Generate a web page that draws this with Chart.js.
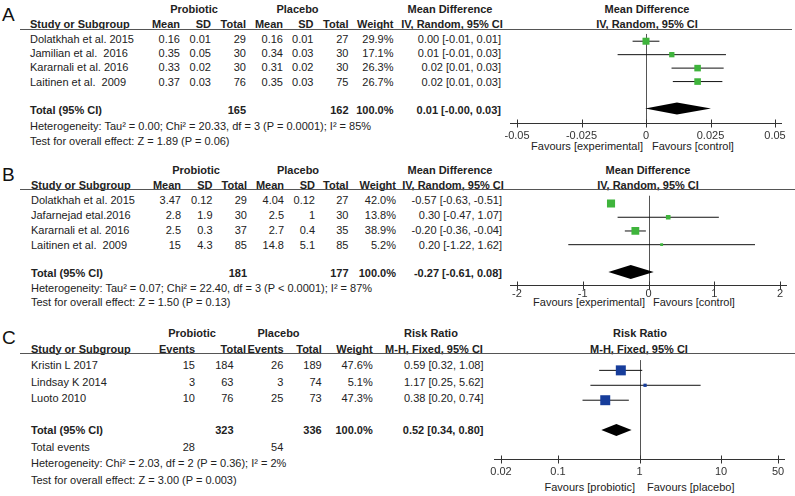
<!DOCTYPE html>
<html>
<head>
<meta charset="utf-8">
<script src="https://cdn.jsdelivr.net/npm/chart.js@4.4.1/dist/chart.umd.min.js"></script>
<style>
  html, body { margin: 0; padding: 0; background: #fff; }
  #fig { position: relative; width: 795px; height: 496px; overflow: hidden; font-family: Arial, "Liberation Sans", sans-serif; font-size: 11px; color: #222; }
  .t { position: absolute; white-space: pre; line-height: 13px; height: 13px; }
  .b { font-weight: bold; }
  .rule { position: absolute; height: 0; border-top: 1px solid #555; }
  .letter { position: absolute; font-size: 19px; line-height: 22px; color: #111; }
  canvas { position: absolute; }
</style>
</head>
<body>
<div id="fig"></div>
<script>
// Panel A - Mean Difference, IV, Random
const studiesA = ["Dolatkhah et al. 2015", "Jamilian et al.  2016", "Kararnali et al. 2016", "Laitinen et al.  2009"];
const meanProA = [0.16, 0.35, 0.33, 0.37];
const sdProA = [0.01, 0.05, 0.02, 0.03];
const nProA = [29, 30, 30, 76];
const meanPlaA = [0.16, 0.34, 0.31, 0.35];
const sdPlaA = [0.01, 0.03, 0.02, 0.03];
const nPlaA = [27, 30, 30, 75];
const weightA = [29.9, 17.1, 26.3, 26.7];
const mdA = [0.0, 0.01, 0.02, 0.02];
const loA = [-0.0052, -0.011, 0.0099, 0.0104];
const hiA = [0.0052, 0.031, 0.0301, 0.0296];
const totalNA = [165, 162];
const totalEffA = [0.012, -0.0003, 0.0252]; // est, lo, hi
const hetA = "Heterogeneity: Tau² = 0.00; Chi² = 20.33, df = 3 (P = 0.0001); I² = 85%";
const testA = "Test for overall effect: Z = 1.89 (P = 0.06)";
const ticksA = [-0.05, -0.025, 0, 0.025, 0.05];
const tickLabelsA = ["-0.05", "-0.025", "0", "0.025", "0.05"];

// Panel B - Mean Difference, IV, Random
const studiesB = ["Dolatkhah et al. 2015", "Jafarnejad etal.2016", "Kararnali et al. 2016", "Laitinen et al.  2009"];
const meanProB = [3.47, 2.8, 2.5, 15];
const sdProB = [0.12, 1.9, 0.3, 4.3];
const nProB = [29, 30, 37, 85];
const meanPlaB = [4.04, 2.5, 2.7, 14.8];
const sdPlaB = [0.12, 1, 0.4, 5.1];
const nPlaB = [27, 30, 35, 85];
const weightB = [42.0, 13.8, 38.9, 5.2];
const mdB = [-0.57, 0.30, -0.20, 0.20];
const loB = [-0.63, -0.47, -0.36, -1.22];
const hiB = [-0.51, 1.07, -0.04, 1.62];
const totalNB = [181, 177];
const totalEffB = [-0.27, -0.61, 0.08];
const hetB = "Heterogeneity: Tau² = 0.07; Chi² = 22.40, df = 3 (P < 0.0001); I² = 87%";
const testB = "Test for overall effect: Z = 1.50 (P = 0.13)";
const ticksB = [-2, -1, 0, 1, 2];
const tickLabelsB = ["-2", "-1", "0", "1", "2"];

// Panel C - Risk Ratio, M-H, Fixed
const studiesC = ["Kristin L 2017", "Lindsay K 2014", "Luoto 2010"];
const evProC = [15, 3, 10];
const nProC = [184, 63, 76];
const evPlaC = [26, 3, 25];
const nPlaC = [189, 74, 73];
const weightC = [47.6, 5.1, 47.3];
const rrC = [0.59, 1.17, 0.38];
const loC = [0.32, 0.25, 0.20];
const hiC = [1.08, 5.62, 0.74];
const totalNC = [323, 336];
const totalEvC = [28, 54];
const totalEffC = [0.52, 0.34, 0.80];
const hetC = "Heterogeneity: Chi² = 2.03, df = 2 (P = 0.36); I² = 2%";
const testC = "Test for overall effect: Z = 3.00 (P = 0.003)";
const ticksC = [0.02, 0.1, 1, 10, 50];
const tickLabelsC = ["0.02", "0.1", "1", "10", "50"];

const fig = document.getElementById("fig");

function put(str, x, y, align, bold) {
  const d = document.createElement("div");
  d.className = "t" + (bold ? " b" : "");
  d.textContent = str;
  d.style.top = (y - 6.4) + "px";
  if (align === "right") {
    d.style.left = (x - 400) + "px"; d.style.width = "400px"; d.style.textAlign = "right";
  } else if (align === "center") {
    d.style.left = (x - 200) + "px"; d.style.width = "400px"; d.style.textAlign = "center";
  } else {
    d.style.left = x + "px";
  }
  fig.appendChild(d);
}
function rule(x, y, w) {
  const d = document.createElement("div");
  d.className = "rule";
  d.style.left = x + "px"; d.style.top = y + "px"; d.style.width = w + "px";
  fig.appendChild(d);
}
function letter(s, y) {
  const d = document.createElement("div");
  d.className = "letter";
  d.textContent = s;
  d.style.left = "2px"; d.style.top = (y - 10.8) + "px";
  fig.appendChild(d);
}
const ci = (e, l, h) => e.toFixed(2) + " [" + l.toFixed(2) + ", " + h.toFixed(2) + "]";

Chart.defaults.font.family = "Arial, 'Liberation Sans', sans-serif";
Chart.defaults.font.size = 11;

function forestChart(o) {
  const canvas = document.createElement("canvas");
  canvas.width = o.w; canvas.height = o.h;
  canvas.style.left = o.left + "px"; canvas.style.top = o.top + "px";
  fig.appendChild(canvas);

  const decor = {
    id: "forestDecor",
    beforeDatasetsDraw(chart) {
      const { ctx, chartArea, scales } = chart;
      const x0 = Math.round(scales.x.getPixelForValue(o.ref)) + 0.5;
      ctx.save();
      ctx.strokeStyle = "#555"; ctx.lineWidth = 1;
      ctx.beginPath(); ctx.moveTo(x0, chartArea.top); ctx.lineTo(x0, chartArea.bottom); ctx.stroke();
      ctx.restore();
    },
    afterDatasetsDraw(chart) {
      const { ctx, chartArea, scales: { x, y } } = chart;
      const yb = Math.round(chartArea.bottom) + 0.5;
      ctx.save();
      ctx.strokeStyle = "#333"; ctx.lineWidth = 1;
      ctx.beginPath(); ctx.moveTo(chartArea.left - 7, yb); ctx.lineTo(chartArea.right + 7, yb); ctx.stroke();
      x.ticks.forEach(t => {
        const px = Math.round(x.getPixelForValue(t.value)) + 0.5;
        ctx.beginPath(); ctx.moveTo(px, yb - 4); ctx.lineTo(px, yb + 4); ctx.stroke();
      });
      // pooled estimate diamond
      const yc = y.getPixelForValue(o.totalRow);
      ctx.fillStyle = "#000";
      ctx.beginPath();
      ctx.moveTo(x.getPixelForValue(o.total[1]), yc);
      ctx.lineTo(x.getPixelForValue(o.total[0]), yc - o.dh);
      ctx.lineTo(x.getPixelForValue(o.total[2]), yc);
      ctx.lineTo(x.getPixelForValue(o.total[0]), yc + o.dh);
      ctx.closePath(); ctx.fill();
      ctx.restore();
    }
  };

  const ciSets = o.est.map((e, i) => ({
    showLine: true,
    data: [{ x: o.lo[i], y: i }, { x: o.hi[i], y: i }],
    borderColor: "#111", borderWidth: 1, pointRadius: 0, order: 1
  }));
  const boxSet = {
    data: o.est.map((e, i) => ({ x: e, y: i })),
    pointStyle: "rect",
    pointRadius: o.weight.map(w => o.boxK * Math.sqrt(w) / Math.SQRT2),
    backgroundColor: o.color, borderColor: o.color, borderWidth: 0, order: 0
  };

  return new Chart(canvas, {
    type: "scatter",
    data: { datasets: [boxSet, ...ciSets] },
    options: {
      responsive: false, animation: false, events: [],
      layout: { padding: { left: 20, right: 20, top: 0, bottom: 0 } },
      plugins: { legend: { display: false }, tooltip: { enabled: false } },
      scales: {
        x: {
          type: o.log ? "logarithmic" : "linear",
          min: o.ticks[0], max: o.ticks[o.ticks.length - 1],
          afterBuildTicks: s => { s.ticks = o.ticks.map(v => ({ value: v })); },
          afterFit: s => { s.height = 30; },
          grid: { display: false, drawTicks: true, tickLength: o.tickLen },
          border: { display: false },
          ticks: { autoSkip: false, maxRotation: 0, padding: 2, color: "#333", callback: (v, i) => o.tickLabels[i] }
        },
        y: { type: "linear", display: false, reverse: true, min: o.yMin, max: o.yMax }
      }
    },
    plugins: [decor]
  });
}

// ---------- Panel A ----------
letter("A", 15);
put("Probiotic", 194, 9.3, "center", true);
put("Placebo", 297.5, 9.3, "center", true);
put("Mean Difference", 450, 9.3, "center", true);
put("Mean Difference", 647, 9.3, "center", true);
const colA = [180, 211, 246, 283, 313.5, 348.5, 393.5];
put("Study or Subgroup", 30, 24, "left", true);
["Mean", "SD", "Total", "Mean", "SD", "Total", "Weight"].forEach((h, i) => put(h, colA[i], 24, "right", true));
put("IV, Random, 95% CI", 452, 24, "center", true);
put("IV, Random, 95% CI", 647, 24, "center", true);
rule(20, 29, 772);
const rowYA = [39, 53, 67.5, 82];
studiesA.forEach((s, i) => {
  const y = rowYA[i];
  put(s, 30, y);
  [meanProA[i], sdProA[i], nProA[i], meanPlaA[i], sdPlaA[i], nPlaA[i]].forEach((v, j) => put(String(v), colA[j], y, "right"));
  put(weightA[i].toFixed(1) + "%", colA[6], y, "right");
  put(ci(mdA[i], loA[i], hiA[i]), 501, y, "right");
});
put("Total (95% CI)", 30, 110.7, "left", true);
put(String(totalNA[0]), colA[2], 110.7, "right", true);
put(String(totalNA[1]), colA[5], 110.7, "right", true);
put("100.0%", colA[6], 110.7, "right", true);
put(ci(totalEffA[0], totalEffA[1], totalEffA[2]), 501, 110.7, "right", true);
put(hetA, 30, 126.7);
put(testA, 30, 141);
put("Favours [experimental]", 643, 146.7, "right");
put("Favours [control]", 652, 146.7, "left");
forestChart({
  left: 497, top: 29, w: 298, h: 124, log: false, tickLen: 4,
  ticks: ticksA, tickLabels: tickLabelsA, ref: 0,
  est: mdA, lo: loA, hi: hiA, weight: weightA, boxK: 1.28, color: "#3fb43c",
  total: totalEffA, totalRow: 5, dh: 6, yMin: -0.54, yMax: 6.08
});

// ---------- Panel B ----------
letter("B", 174.5);
put("Probiotic", 196, 170.7, "center", true);
put("Placebo", 298, 170.7, "center", true);
put("Mean Difference", 450, 170.7, "center", true);
put("Mean Difference", 648, 170.7, "center", true);
const colB = [181, 212.5, 247, 284, 315, 348.5, 396];
put("Study or Subgroup", 31, 185.7, "left", true);
["Mean", "SD", "Total", "Mean", "SD", "Total", "Weight"].forEach((h, i) => put(h, colB[i], 185.7, "right", true));
put("IV, Random, 95% CI", 453, 185.7, "center", true);
put("IV, Random, 95% CI", 648, 185.7, "center", true);
rule(20, 189, 775);
const rowYB = [200.7, 215.7, 230.3, 245];
studiesB.forEach((s, i) => {
  const y = rowYB[i];
  put(s, 31, y);
  [meanProB[i], sdProB[i], nProB[i], meanPlaB[i], sdPlaB[i], nPlaB[i]].forEach((v, j) => put(String(v), colB[j], y, "right"));
  put(weightB[i].toFixed(1) + "%", colB[6], y, "right");
  put(ci(mdB[i], loB[i], hiB[i]), 502, y, "right");
});
put("Total (95% CI)", 31, 273.3, "left", true);
put(String(totalNB[0]), colB[2], 273.3, "right", true);
put(String(totalNB[1]), colB[5], 273.3, "right", true);
put("100.0%", colB[6], 273.3, "right", true);
put(ci(totalEffB[0], totalEffB[1], totalEffB[2]), 502, 273.3, "right", true);
put(hetB, 31, 288.3);
put(testB, 31, 302.7);
put("Favours [experimental]", 645, 302.5, "right");
put("Favours [control]", 653, 302.5, "left");
forestChart({
  left: 497, top: 190, w: 303, h: 125, log: false, tickLen: 0,
  ticks: ticksB, tickLabels: tickLabelsB, ref: 0,
  est: mdB, lo: loB, hi: hiB, weight: weightB, boxK: 1.25, color: "#3fb43c",
  total: totalEffB, totalRow: 5, dh: 7, yMin: -0.57, yMax: 5.94
});

// ---------- Panel C ----------
letter("C", 337.5);
put("Probiotic", 192, 333.3, "center", true);
put("Placebo", 278.5, 333.3, "center", true);
put("Risk Ratio", 431, 333.3, "center", true);
put("Risk Ratio", 640, 333.3, "center", true);
const headColC = [195, 246, 283.5, 321.7, 372.7];
const colC = [195, 233.5, 283.3, 321.7, 372.7];
put("Study or Subgroup", 31, 349.3, "left", true);
["Events", "Total", "Events", "Total", "Weight"].forEach((h, i) => put(h, headColC[i], 349.3, "right", true));
put("M-H, Fixed, 95% CI", 434, 349.3, "center", true);
put("M-H, Fixed, 95% CI", 639, 349.3, "center", true);
rule(20, 353, 775);
const rowYC = [365, 382, 398];
studiesC.forEach((s, i) => {
  const y = rowYC[i];
  put(s, 31, y);
  [evProC[i], nProC[i], evPlaC[i], nPlaC[i]].forEach((v, j) => put(String(v), colC[j], y, "right"));
  put(weightC[i].toFixed(1) + "%", colC[4], y, "right");
  put(ci(rrC[i], loC[i], hiC[i]), 483.5, y, "right");
});
put("Total (95% CI)", 31, 430, "left", true);
put(String(totalNC[0]), colC[1], 430, "right", true);
put(String(totalNC[1]), colC[3], 430, "right", true);
put("100.0%", colC[4], 430, "right", true);
put(ci(totalEffC[0], totalEffC[1], totalEffC[2]), 483.5, 430, "right", true);
put("Total events", 31, 447);
put(String(totalEvC[0]), colC[0], 447, "right");
put(String(totalEvC[1]), colC[2], 447, "right");
put(hetC, 31, 463.7);
put(testC, 31, 480);
put("Favours [probiotic]", 635, 487, "right");
put("Favours [placebo]", 647, 487, "left");
forestChart({
  left: 481, top: 353, w: 317, h: 136, log: true, tickLen: 4,
  ticks: ticksC, tickLabels: tickLabelsC, ref: 1,
  est: rrC, lo: loC, hi: hiC, weight: weightC, boxK: 1.45, color: "#173d9b",
  total: totalEffC, totalRow: 4, dh: 6, yMin: -0.69, yMax: 5.94
});
</script>
</body>
</html>
